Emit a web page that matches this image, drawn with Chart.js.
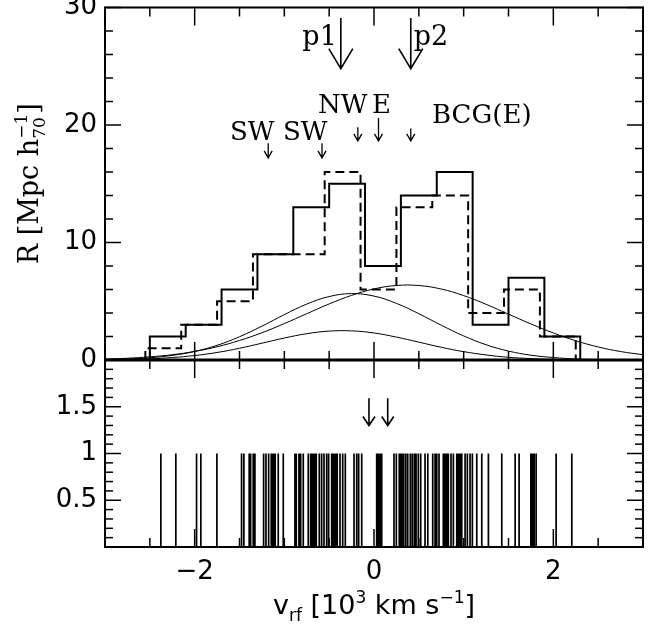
<!DOCTYPE html>
<html>
<head>
<meta charset="utf-8">
<script src="https://cdn.jsdelivr.net/npm/chart.js@4.4.1/dist/chart.umd.min.js"></script>
<style>
  html, body { margin: 0; padding: 0; background: #fff; }
</style>
</head>
<body>
<canvas id="vel-chart" width="666" height="628"></canvas>
<script>
// Histograms (left bin edges, counts), bin width 0.4
const binWidth = 0.4;
const solidEdges = [-2.5, -2.1, -1.7, -1.3, -0.9, -0.5, -0.1, 0.3, 0.7, 1.1, 1.5, 1.9];
const solidCounts = [2, 3, 6, 9, 13, 15, 8, 14, 16, 3, 7, 2];
const dashedEdges = [-2.55, -2.15, -1.75, -1.35, -0.95, -0.55, -0.15, 0.25, 0.65, 1.05, 1.45, 1.85];
const dashedCounts = [1, 3, 5, 9, 9, 16, 6, 13, 14, 4, 6, 2];

// Gaussian components
const curveX = [-3, -2.75, -2.5, -2.25, -2, -1.75, -1.5, -1.25, -1, -0.75, -0.5, -0.25, 0,
                0.25, 0.5, 0.75, 1, 1.25, 1.5, 1.75, 2, 2.25, 2.5, 2.75, 3];
const curveA = [0.08, 0.15, 0.27, 0.45, 0.73, 1.13, 1.66, 2.32, 3.10, 3.94, 4.77, 5.50, 6.05,
                6.34, 6.34, 6.04, 5.48, 4.74, 3.90, 3.07, 2.30, 1.64, 1.11, 0.72, 0.45];
const curveB = [0.04, 0.09, 0.19, 0.39, 0.73, 1.25, 1.98, 2.88, 3.86, 4.76, 5.40, 5.65, 5.44,
                4.82, 3.94, 2.96, 2.05, 1.30, 0.76, 0.41, 0.21, 0.09, 0.04, 0.02, 0.01];
const curveC = [0.02, 0.05, 0.10, 0.21, 0.38, 0.64, 1.00, 1.43, 1.87, 2.24, 2.46, 2.48, 2.30,
                1.95, 1.52, 1.08, 0.71, 0.43, 0.23, 0.12, 0.05, 0.02, 0.01, 0, 0];

// member velocities (10^3 km/s) for the stripe panel
const velocities = [-2.377, -2.210, -1.979, -1.931, -1.752, -1.477, -1.451, -1.392, -1.376, -1.347,
  -1.328, -1.231, -1.205, -1.175, -1.146, -1.131, -1.116, -1.102, -1.068, -1.012, -0.882, -0.867,
  -0.837, -0.818, -0.789, -0.733, -0.706, -0.689, -0.673, -0.658, -0.644, -0.610, -0.584, -0.558,
  -0.528, -0.506, -0.472, -0.458, -0.443, -0.424, -0.410, -0.379, -0.349, -0.320, -0.223, -0.193,
  -0.171, -0.137, 0.030, 0.048, 0.067, 0.086, 0.223, 0.249, 0.282, 0.298, 0.313, 0.331, 0.354,
  0.376, 0.405, 0.427, 0.450, 0.469, 0.494, 0.521, 0.569, 0.600, 0.655, 0.681, 0.700, 0.725, 0.773,
  0.792, 0.811, 0.829, 0.859, 0.885, 0.923, 0.941, 0.960, 0.979, 1.016, 1.041, 1.071, 1.097, 1.146,
  1.202, 1.276, 1.425, 1.574, 1.618, 1.749, 1.767, 1.786, 1.808, 2.031, 2.206];

// arrows: peaks p1/p2, group marks, and the two arrows in the lower panel
const peakX = [-0.37, 0.41];
const peakLabels = ['p1', 'p2'];
const peakFrom = 29.1, peakTo = 24.8;
const markX = [-1.18, -0.58, -0.18, 0.05, 0.41];
const markFrom = [18.45, 18.45, 19.8, 20.6, 19.7];
const markTo = [17.2, 17.2, 18.65, 18.65, 18.65];
const markLabels = ['SW', 'SW', 'NW', 'E', 'BCG(E)'];
const markLabelX = [-1.607, -1.016, -0.625, -0.022, 0.647];
const markLabelY = [18.72, 18.72, 21.02, 21.02, 20.17];
const lowArrowX = [-0.056, 0.153];
const lowFrom = 1.59, lowTo = 1.30;

// ticks
const xMajor = [-2, 0, 2];
const xLabels = ['\u22122', '0', '2'];
const xMinor = [-2.5, -1.5, -1, -0.5, 0.5, 1, 1.5, 2.5];
const yTopMajor = [0, 10, 20, 30];
const yTopLabels = ['0', '10', '20', '30'];
const yTopMinor = [2, 4, 6, 8, 12, 14, 16, 18, 22, 24, 26, 28];
const yBotMajor = [0.5, 1, 1.5];
const yBotLabels = ['0.5', '1', '1.5'];
const yBotMinor = [0.1, 0.2, 0.3, 0.4, 0.6, 0.7, 0.8, 0.9, 1.1, 1.2, 1.3, 1.4, 1.6, 1.7, 1.8, 1.9];

function stepPoints(edges, counts) {
    const pts = [{ x: edges[0], y: 0 }];
    edges.forEach((e, i) => pts.push({ x: e, y: counts[i] }));
    const end = edges[edges.length - 1] + binWidth;
    pts.push({ x: end, y: counts[counts.length - 1] });
    pts.push({ x: end, y: 0 });
    return pts;
}

function curve(ys) {
    return curveX.map((x, i) => ({ x: x, y: ys[i] }));
}

const sansFont = '"DejaVu Sans", sans-serif';
const serifFont = '"DejaVu Serif", serif';

// text with sub/superscripts, centred on x
function drawRich(ctx, runs, x, y, size, family) {
    const small = Math.round(size * 0.62);
    const widthOf = (r) => {
        if (r.kind === 'stack') {
            ctx.font = small + 'px ' + family;
            return Math.max(ctx.measureText(r.sup).width, ctx.measureText(r.sub).width);
        }
        ctx.font = (r.kind === 'n' ? size : small) + 'px ' + family;
        return ctx.measureText(r.text).width;
    };
    const total = runs.reduce((s, r) => s + widthOf(r), 0);
    let cx = x - total / 2;
    ctx.textAlign = 'left';
    ctx.textBaseline = 'alphabetic';
    runs.forEach(r => {
        const w = widthOf(r);
        if (r.kind === 'stack') {
            ctx.font = small + 'px ' + family;
            ctx.fillText(r.sup, cx, y - size * 0.42);
            ctx.fillText(r.sub, cx, y + size * 0.25);
        } else {
            ctx.font = (r.kind === 'n' ? size : small) + 'px ' + family;
            const dy = r.kind === 'sup' ? -size * 0.42 : r.kind === 'sub' ? size * 0.25 : 0;
            ctx.fillText(r.text, cx, y + dy);
        }
        cx += w;
    });
}

const framePlugin = {
    id: 'frame',
    afterDraw(chart) {
        const ctx = chart.ctx;
        const xs = chart.scales.x, yt = chart.scales.y, yb = chart.scales.y2;
        const L = xs.getPixelForValue(-3), R = xs.getPixelForValue(3);
        const T = yt.getPixelForValue(30), M = yt.getPixelForValue(0), B = yb.getPixelForValue(0);
        const seg = (x0, y0, x1, y1) => { ctx.beginPath(); ctx.moveTo(x0, y0); ctx.lineTo(x1, y1); ctx.stroke(); };
        const arrow = (x, y0, y1, head, half) => {
            ctx.beginPath();
            ctx.moveTo(x, y0); ctx.lineTo(x, y1);
            ctx.moveTo(x - half, y1 - head); ctx.lineTo(x, y1); ctx.lineTo(x + half, y1 - head);
            ctx.stroke();
        };

        ctx.save();
        ctx.strokeStyle = '#000';
        ctx.fillStyle = '#000';
        ctx.lineCap = 'butt';

        // frames
        ctx.lineWidth = 2;
        ctx.strokeRect(L, T, R - L, B - T);
        ctx.lineWidth = 3;
        seg(L, M, R, M);

        // x ticks on all four horizontal edges
        ctx.lineWidth = 1.5;
        const xTick = (v, len) => {
            const px = xs.getPixelForValue(v);
            seg(px, T, px, T + len);
            seg(px, M, px, M - len);
            seg(px, M, px, M + len);
            seg(px, B, px, B - len);
        };
        xMajor.forEach(v => xTick(v, 18));
        xMinor.forEach(v => xTick(v, 9));

        // y ticks, left and right
        const yTick = (scale, v, len) => {
            const py = scale.getPixelForValue(v);
            seg(L, py, L + len, py);
            seg(R, py, R - len, py);
        };
        yTopMajor.forEach(v => yTick(yt, v, 16));
        yTopMinor.forEach(v => yTick(yt, v, 8));
        yBotMajor.forEach(v => yTick(yb, v, 16));
        yBotMinor.forEach(v => yTick(yb, v, 8));

        // tick labels
        ctx.font = '26px ' + sansFont;
        ctx.textAlign = 'right';
        ctx.textBaseline = 'middle';
        yTopMajor.forEach((v, i) => ctx.fillText(yTopLabels[i], L - 8, yt.getPixelForValue(v)));
        yBotMajor.forEach((v, i) => ctx.fillText(yBotLabels[i], L - 8, yb.getPixelForValue(v)));
        ctx.textAlign = 'center';
        ctx.textBaseline = 'top';
        xMajor.forEach((v, i) => ctx.fillText(xLabels[i], xs.getPixelForValue(v), B + 12));

        // axis titles
        drawRich(ctx, [
            { kind: 'n', text: 'v' }, { kind: 'sub', text: 'rf' }, { kind: 'n', text: ' [10' },
            { kind: 'sup', text: '3' }, { kind: 'n', text: ' km s' }, { kind: 'sup', text: '\u22121' },
            { kind: 'n', text: ']' }
        ], (L + R) / 2, 614, 27, sansFont);
        ctx.save();
        ctx.translate(38, (T + M) / 2);
        ctx.rotate(-Math.PI / 2);
        drawRich(ctx, [
            { kind: 'n', text: 'R [Mpc h' }, { kind: 'stack', sup: '\u22121', sub: '70' },
            { kind: 'n', text: ']' }
        ], 0, 0, 27, serifFont);
        ctx.restore();

        // peak arrows
        ctx.lineWidth = 1.6;
        peakX.forEach(v => arrow(xs.getPixelForValue(v), yt.getPixelForValue(peakFrom), yt.getPixelForValue(peakTo), 20, 12));
        ctx.font = '27px ' + serifFont;
        ctx.textBaseline = 'alphabetic';
        const labY = yt.getPixelForValue((peakFrom + peakTo) / 2) + 2;
        ctx.textAlign = 'right';
        ctx.fillText(peakLabels[0], xs.getPixelForValue(peakX[0]) - 4, labY);
        ctx.textAlign = 'left';
        ctx.fillText(peakLabels[1], xs.getPixelForValue(peakX[1]) + 3, labY);

        // group marks
        ctx.lineWidth = 1.3;
        markX.forEach((v, i) => arrow(xs.getPixelForValue(v), yt.getPixelForValue(markFrom[i]), yt.getPixelForValue(markTo[i]), 7, 4));
        ctx.font = '26px ' + serifFont;
        ctx.textAlign = 'left';
        markLabels.forEach((t, i) => ctx.fillText(t, xs.getPixelForValue(markLabelX[i]), yt.getPixelForValue(markLabelY[i])));

        // lower panel arrows
        ctx.lineWidth = 1.6;
        lowArrowX.forEach(v => arrow(xs.getPixelForValue(v), yb.getPixelForValue(lowFrom), yb.getPixelForValue(lowTo), 9, 6));

        ctx.restore();
    }
};

const hiddenAxis = {
    type: 'linear',
    stack: 'panels',
    ticks: { display: false },
    grid: { display: false },
    border: { display: false },
    afterFit: (s) => { s.width = 0; }
};

new Chart(document.getElementById('vel-chart'), {
    type: 'line',
    data: {
        datasets: [
            { data: stepPoints(solidEdges, solidCounts), stepped: 'before', borderColor: '#000', borderWidth: 2, yAxisID: 'y' },
            { data: stepPoints(dashedEdges, dashedCounts), stepped: 'before', borderColor: '#000', borderWidth: 2, borderDash: [9, 5], yAxisID: 'y' },
            { data: curve(curveA), borderColor: '#000', borderWidth: 1, tension: 0.4, yAxisID: 'y' },
            { data: curve(curveB), borderColor: '#000', borderWidth: 1, tension: 0.4, yAxisID: 'y' },
            { data: curve(curveC), borderColor: '#000', borderWidth: 1, tension: 0.4, yAxisID: 'y' },
            {
                data: velocities.flatMap(v => [{ x: v, y: 0 }, { x: v, y: 1 }, { x: v, y: null }]),
                borderColor: '#000', borderWidth: 1.7, spanGaps: false, yAxisID: 'y2'
            }
        ]
    },
    options: {
        responsive: false,
        animation: false,
        events: [],
        layout: { padding: { left: 105, right: 23, top: 7.5, bottom: 81 } },
        elements: { point: { radius: 0 } },
        plugins: { legend: { display: false }, tooltip: { enabled: false } },
        scales: {
            x: { type: 'linear', min: -3, max: 3, display: false },
            y2: Object.assign({}, hiddenAxis, { min: 0, max: 2, stackWeight: 187 }),
            y: Object.assign({}, hiddenAxis, { min: 0, max: 30, stackWeight: 352.5 })
        }
    },
    plugins: [framePlugin]
});
</script>
</body>
</html>
